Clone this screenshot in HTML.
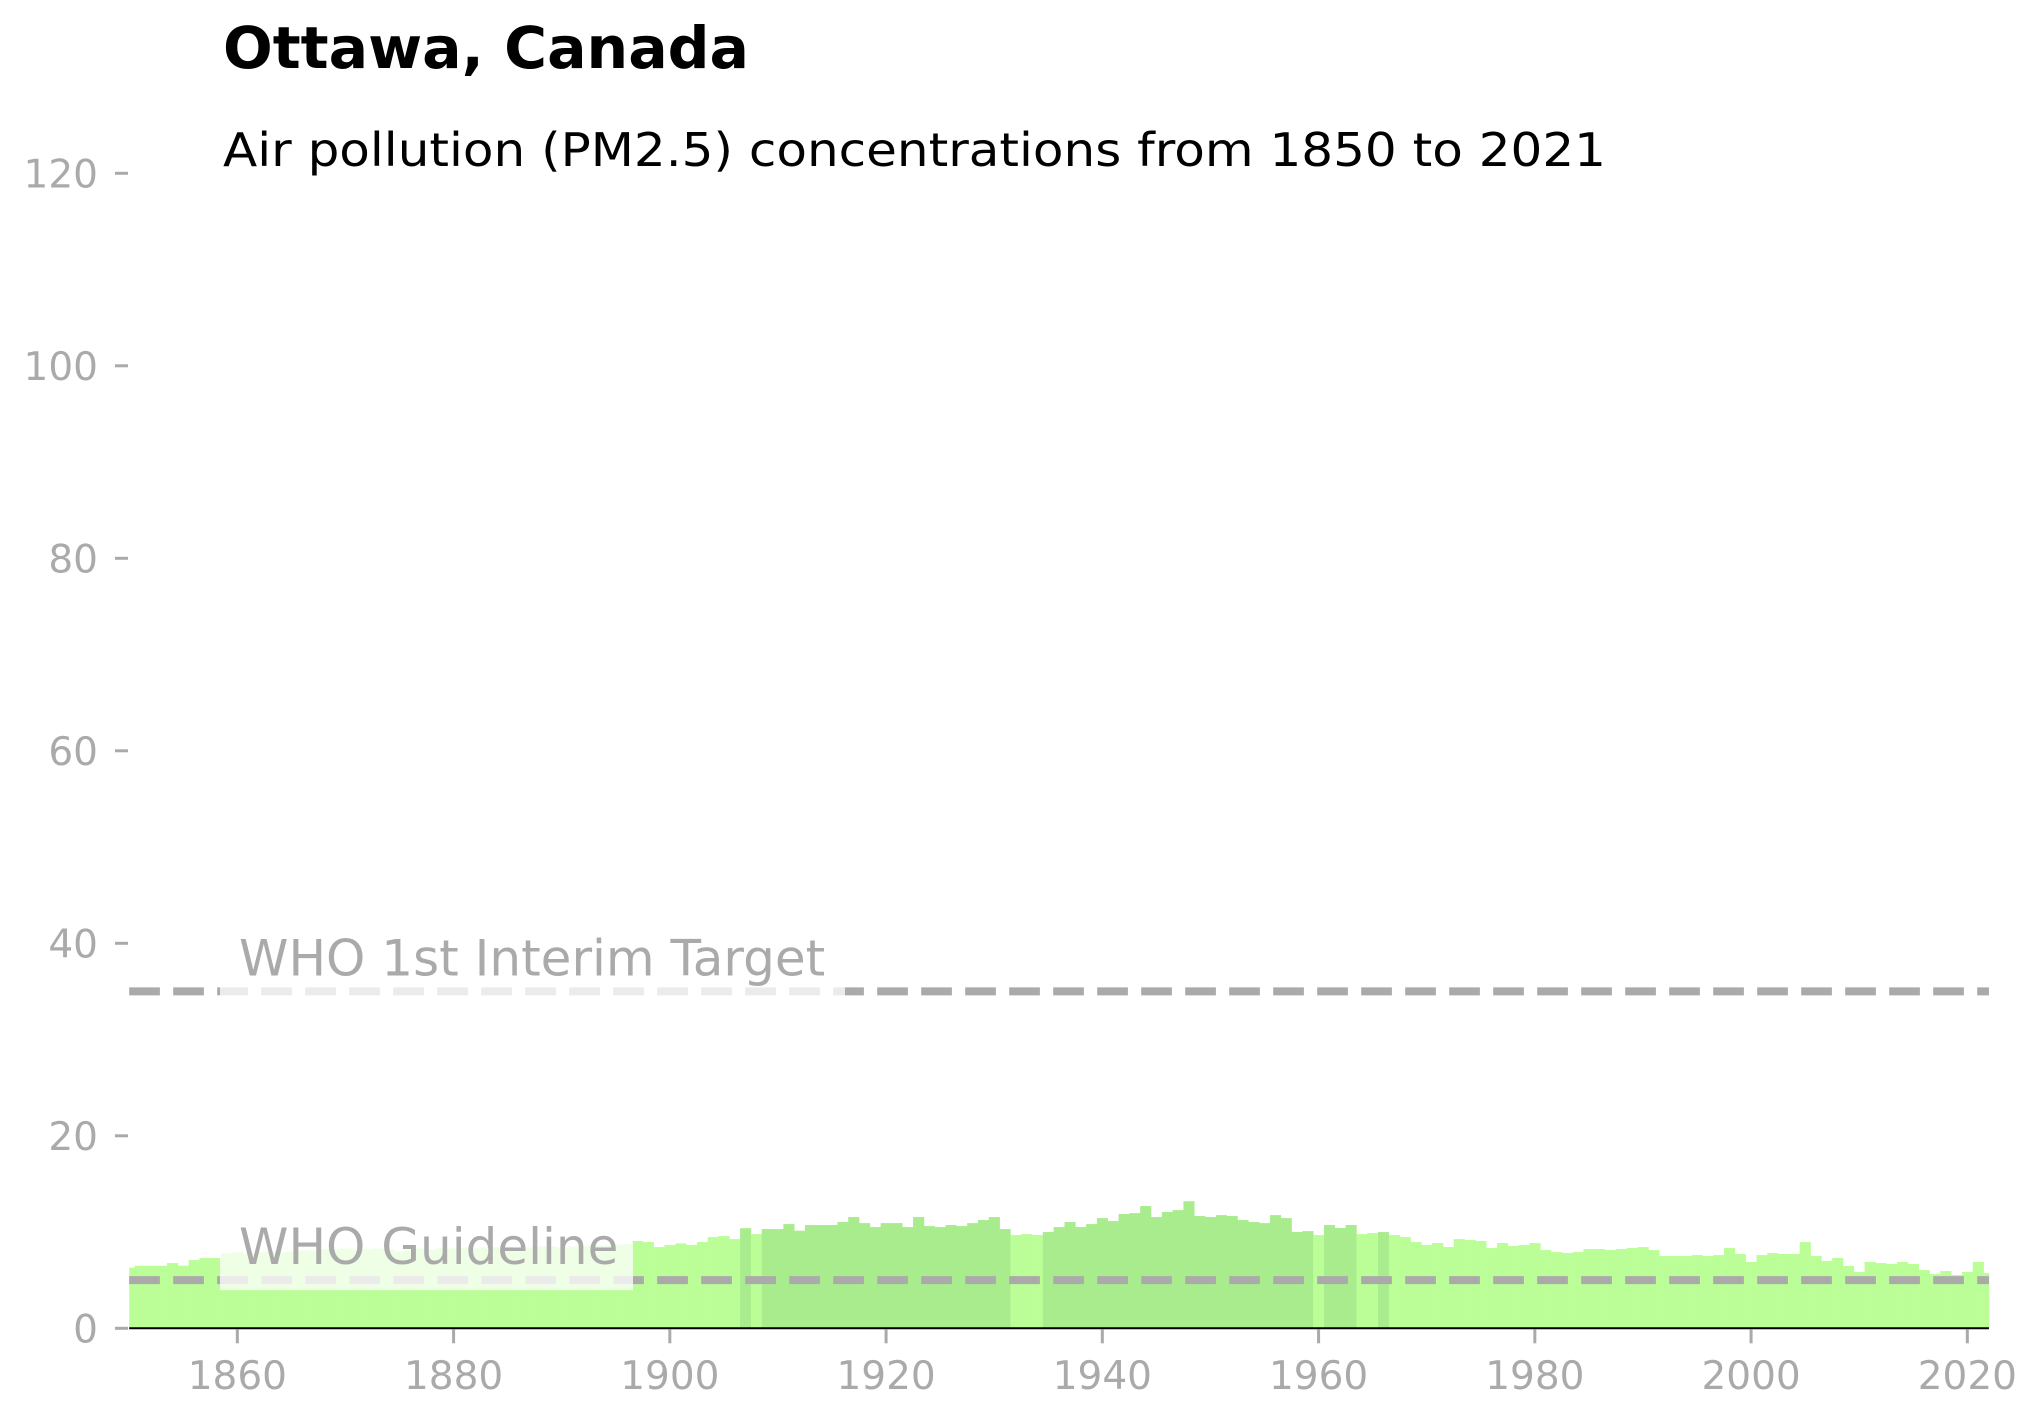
<!DOCTYPE html>
<html><head><meta charset="utf-8"><style>
html,body{margin:0;padding:0;background:#fff;}
svg{display:block;font-family:"DejaVu Sans","Liberation Sans",sans-serif;}
</style></head><body>
<svg id="chart" width="2043" height="1415" viewBox="0 0 2043 1415" xmlns="http://www.w3.org/2000/svg">
<text x="223" y="68" font-size="58" font-weight="bold" fill="#000" textLength="526" lengthAdjust="spacingAndGlyphs">Ottawa, Canada</text>
<text x="223" y="166" font-size="46" fill="#000" textLength="1383" lengthAdjust="spacingAndGlyphs">Air pollution (PM2.5) concentrations from 1850 to 2021</text>
<g id="bars"></g>
<g id="axes"></g>
<g id="refs"></g>
</svg>
<script>
const years = [];
for (let y = 1850; y <= 2022; y++) years.push(y);
const pm25 = [
6.3,6.5,6.5,6.5,6.78,6.5,7.09,7.3,7.3,7.8,
7.9,7.8,7.9,8.0,7.9,8.0,8.1,8.1,8.2,8.2,
8.3,8.1,8.2,8.3,8.2,8.0,8.1,8.3,8.2,8.4,
8.3,8.4,8.3,8.4,8.4,8.5,8.3,8.4,8.5,8.5,
8.4,8.5,8.6,8.6,8.6,8.7,8.75,9.07,8.96,8.44,
8.65,8.82,8.65,8.96,9.48,9.58,9.27,10.4,9.79,10.31,
10.31,10.83,10.14,10.73,10.73,10.73,11.04,11.56,10.93,10.52,
10.93,10.93,10.52,11.56,10.62,10.52,10.73,10.62,10.93,11.25,
11.56,10.31,9.69,9.79,9.69,10.0,10.52,11.04,10.52,10.83,
11.45,11.14,11.87,11.97,12.7,11.56,12.08,12.28,13.2,11.66,
11.56,11.76,11.66,11.25,11.04,10.93,11.76,11.45,10.0,10.1,
9.69,10.73,10.42,10.73,9.79,9.9,10.0,9.69,9.48,8.96,
8.65,8.86,8.44,9.27,9.17,9.07,8.34,8.86,8.55,8.65,
8.86,8.13,7.92,7.82,7.92,8.24,8.24,8.13,8.24,8.34,
8.44,8.13,7.51,7.51,7.51,7.61,7.51,7.61,8.34,7.72,
6.89,7.61,7.82,7.72,7.72,8.96,7.51,6.99,7.3,6.47,
5.85,6.89,6.78,6.68,6.89,6.68,6.06,5.64,5.95,5.54,
5.85,6.89,5.74
];
const darkYears = [1907,1909,1910,1911,1912,1913,1914,1915,1916,1917,1918,1919,1920,1921,1922,1923,1924,1925,1926,1927,1928,1929,1930,1931,1935,1936,1937,1938,1939,1940,1941,1942,1943,1944,1945,1946,1947,1948,1949,1950,1951,1952,1953,1954,1955,1956,1957,1958,1959,1961,1962,1963,1966];
const yTicks = [0,20,40,60,80,100,120];
const xTicks = [1860,1880,1900,1920,1940,1960,1980,2000,2020];
const refValues = [5,35];
const refLabels = ["WHO Guideline","WHO 1st Interim Target"];

const NS = "http://www.w3.org/2000/svg";
const X0 = 129.2, PXY = 10.8125, XMIN = 1850, XMAX = 2022;
const Y0 = 1328.3, PXV = 9.625;
const xs = v => X0 + (v - XMIN) * PXY;
const ys = v => Y0 - v * PXV;
function mk(tag, attrs, parent) {
  const e = document.createElementNS(NS, tag);
  for (const k in attrs) e.setAttribute(k, attrs[k]);
  parent.appendChild(e);
  return e;
}
const barsG = document.getElementById('bars');
years.forEach((yr, i) => {
  let l = Math.max(xs(yr - 0.5), xs(XMIN));
  let r = Math.min(xs(yr + 0.5), xs(XMAX));
  const top = ys(pm25[i]);
  const b = mk('rect', {x: l, y: top, width: r - l + 0.3, height: Y0 - top, fill: darkYears.includes(yr) ? '#a8ec8e' : '#bbfe98'}, barsG);
  
  
});
const axG = document.getElementById('axes');
const xl = mk('line', {x1: xs(XMIN), x2: xs(XMAX), y1: Y0, y2: Y0, stroke: '#000', 'stroke-width': 2}, axG);


yTicks.forEach(v => {
  const t = mk('line', {x1: 115, x2: 128, y1: ys(v), y2: ys(v), stroke: '#aaa', 'stroke-width': 3}, axG);
  
  
  const tx = mk('text', {x: 98, y: ys(v) + 14, 'text-anchor': 'end', 'font-size': 39, fill: '#aaa'}, axG);
  tx.textContent = v;
  
  
});
xTicks.forEach(v => {
  const t = mk('line', {x1: xs(v), x2: xs(v), y1: Y0 + 1, y2: Y0 + 15, stroke: '#aaa', 'stroke-width': 3}, axG);
  
  
  const tx = mk('text', {x: xs(v), y: 1389, 'text-anchor': 'middle', 'font-size': 39, fill: '#aaa'}, axG);
  tx.textContent = v;
  
  
});
const refG = document.getElementById('refs');
refValues.forEach((v, i) => {
  const ly = ys(v);
  const ln = mk('line', {x1: xs(XMIN), x2: xs(XMAX), y1: ly, y2: ly, stroke: '#aaa', 'stroke-width': 8, 'stroke-dasharray': '30.7 13.3'}, refG);
  
  
  const w = i === 0 ? 413 : 625;
  const bx = mk('rect', {x: 220, y: ly - 67, width: w, height: 77, fill: '#fff', 'fill-opacity': 0.76}, refG);
  
  
  const tx = mk('text', {x: 239, y: ly - 16, 'font-size': 50, fill: '#aaa'}, refG);
  tx.textContent = refLabels[i];
  
  
});
</script>
</body></html>
